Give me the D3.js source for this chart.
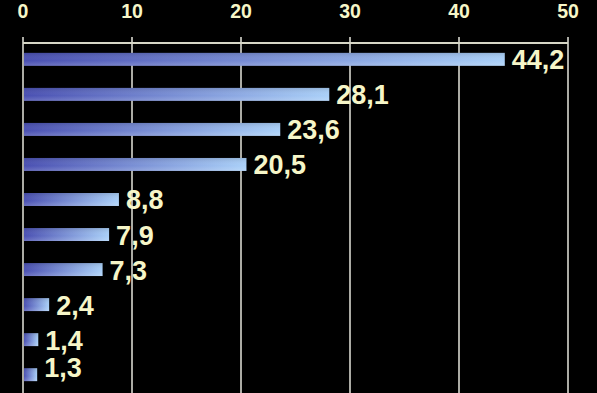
<!DOCTYPE html>
<html>
<head>
<meta charset="utf-8">
<script src="https://cdn.jsdelivr.net/npm/d3@7"></script>
<style>
  html, body { margin: 0; padding: 0; background: #000; }
  svg { display: block; }
</style>
</head>
<body>
<svg id="chart"></svg>
<script>
// bar values, top to bottom
var values = [44.2, 28.1, 23.6, 20.5, 8.8, 7.9, 7.3, 2.4, 1.4, 1.3];
var tickValues = [0, 10, 20, 30, 40, 50];

var w = 597,
    h = 393;

var svg = d3.select("#chart")
    .attr("width", w)
    .attr("height", h);

var x = d3.scaleLinear().domain([0, 50]).range([23, 568]);
var y = d3.scaleBand()
    .domain(d3.range(values.length))
    .range([42, 392])
    .paddingInner(0.63)
    .paddingOuter(0.31);

var defs = svg.append("defs");
var grad = defs.append("linearGradient")
    .attr("id", "barGrad")
    .attr("x1", "0").attr("y1", "0")
    .attr("x2", "1").attr("y2", "0");
grad.append("stop").attr("offset", "0%").attr("stop-color", "#4a50b2");
grad.append("stop").attr("offset", "100%").attr("stop-color", "#aad0f8");

var shade = defs.append("linearGradient")
    .attr("id", "barShade")
    .attr("x1", "0").attr("y1", "0")
    .attr("x2", "0").attr("y2", "1");
shade.append("stop").attr("offset", "0%").attr("stop-color", "#000").attr("stop-opacity", 0.12);
shade.append("stop").attr("offset", "60%").attr("stop-color", "#fff").attr("stop-opacity", 0);
shade.append("stop").attr("offset", "100%").attr("stop-color", "#fff").attr("stop-opacity", 0.18);

var cream = "#f6f6c8";

// vertical grid lines
svg.selectAll(".grid")
    .data(tickValues)
    .enter().append("line")
    .attr("class", "grid")
    .attr("x1", function(d) { return x(d); })
    .attr("x2", function(d) { return x(d); })
    .attr("y1", 37)
    .attr("y2", h)
    .attr("stroke", "#e6e6dc")
    .attr("stroke-width", 1.5);

// top axis line
svg.append("line")
    .attr("x1", x(0)).attr("x2", x(50))
    .attr("y1", 43).attr("y2", 43)
    .attr("stroke", "#d6d6c6")
    .attr("stroke-width", 2);

// tick labels
svg.selectAll(".tick-label")
    .data(tickValues)
    .enter().append("text")
    .attr("class", "tick-label")
    .attr("x", function(d) { return x(d); })
    .attr("y", 18)
    .attr("text-anchor", "middle")
    .attr("fill", cream)
    .style("font-family", "Liberation Sans, Arial, sans-serif")
    .style("font-weight", "bold")
    .style("font-size", "19.5px")
    .text(function(d) { return d; });

// bars
var bars = svg.selectAll(".bar")
    .data(values)
    .enter().append("g")
    .attr("class", "bar");

bars.append("rect")
    .attr("x", x(0) + 1)
    .attr("y", function(d, i) { return y(i); })
    .attr("width", function(d) { return x(d) - x(0) - 1; })
    .attr("height", y.bandwidth())
    .attr("fill", "url(#barGrad)");

bars.append("rect")
    .attr("x", x(0) + 1)
    .attr("y", function(d, i) { return y(i); })
    .attr("width", function(d) { return x(d) - x(0) - 1; })
    .attr("height", y.bandwidth())
    .attr("fill", "url(#barShade)");

// value labels (last one sits a bit higher in the original)
svg.selectAll(".value")
    .data(values)
    .enter().append("text")
    .attr("class", "value")
    .attr("x", function(d) { return x(d) + 7; })
    .attr("y", function(d, i) {
        return y(i) + y.bandwidth() / 2 + 10 - (i === values.length - 1 ? 8 : 0);
    })
    .attr("fill", cream)
    .style("font-family", "Liberation Sans, Arial, sans-serif")
    .style("font-weight", "bold")
    .style("font-size", "27px")
    .text(function(d) { return d.toFixed(1).replace(".", ","); });
</script>
</body>
</html>
